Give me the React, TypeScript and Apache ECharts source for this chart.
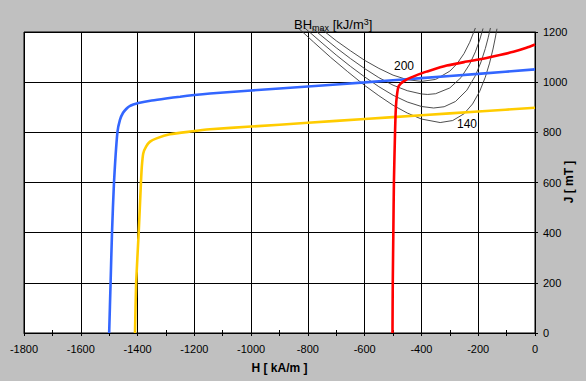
import React, { useEffect, useRef } from "react";
import * as echarts from "echarts";

// Demagnetisation curves: [H (kA/m), J (mT)]
const blueCurve: [number, number][] = [
  [-1500, 0], [-1495, 200], [-1490, 400], [-1483, 600], [-1471, 800], [-1462, 850],
  [-1451, 878], [-1440, 893], [-1430, 903], [-1415, 911], [-1397, 917], [-1350, 927],
  [-1300, 935], [-1250, 942], [-1200, 949], [-1145, 955], [-1000, 967], [-800, 983],
  [-600, 999], [-400, 1016], [-200, 1033], [0, 1051],
];
const yellowCurve: [number, number][] = [
  [-1409, 0], [-1405, 200], [-1396, 400], [-1388, 600], [-1385, 663], [-1380, 716],
  [-1370, 743], [-1356, 763], [-1333, 776], [-1286, 792], [-1215, 803], [-1145, 812],
  [-1000, 823], [-800, 838], [-600, 853], [-400, 868], [-200, 883], [0, 898],
];
const redCurve: [number, number][] = [
  [-502, 0], [-501, 200], [-499, 400], [-497, 600], [-493, 800], [-490, 900],
  [-486, 950], [-481, 982], [-472, 995], [-464, 1002], [-450, 1012], [-429, 1022],
  [-400, 1035], [-382, 1042], [-311, 1066], [-250, 1080], [-194, 1091], [-140, 1104],
  [-76, 1121], [-30, 1137], [0, 1150],
];
// BHmax iso-lines (kJ/m3)
const bh200: [number, number][] = [
  [-756, 1215], [-700, 1165], [-650, 1125], [-600, 1087], [-550, 1055], [-500, 1028],
  [-450, 1010], [-400, 1003], [-350, 1011], [-300, 1044], [-275, 1073], [-250, 1114],
  [-230, 1159], [-210, 1216],
];
const bh180: [number, number][] = [
  [-784, 1215], [-750, 1183], [-700, 1137], [-650, 1094], [-600, 1054], [-550, 1018],
  [-500, 988], [-450, 966], [-400, 953], [-378, 951], [-350, 954], [-300, 977],
  [-260, 1019], [-230, 1072], [-210, 1121], [-195, 1168], [-183, 1214],
];
const bh160: [number, number][] = [
  [-810, 1215], [-750, 1156], [-700, 1108], [-650, 1063], [-600, 1021], [-550, 982],
  [-500, 948], [-450, 921], [-400, 903], [-357, 897], [-320, 902], [-280, 923],
  [-240, 968], [-210, 1026], [-190, 1081], [-175, 1134], [-165, 1177], [-157, 1216],
];
const bh140: [number, number][] = [
  [-833, 1215], [-780, 1160], [-720, 1099], [-660, 1042], [-600, 987], [-550, 946],
  [-500, 908], [-450, 877], [-400, 853], [-334, 839], [-290, 847], [-250, 874],
  [-220, 913], [-195, 963], [-175, 1020], [-160, 1076], [-148, 1132], [-140, 1176],
  [-134, 1213],
];
const bhCurves = [bh200, bh180, bh160, bh140];
const bhLabels = ["200", "140"];

const FONT = "'Liberation Sans', Arial, sans-serif";
const plain = (v: number) => String(v);

export default function App() {
  const ref = useRef<HTMLDivElement>(null);
  useEffect(() => {
    document.body.style.margin = "0";
    const chart = echarts.init(ref.current!, null, { renderer: "svg" });
    chart.setOption({
      animation: false,
      backgroundColor: "#c0c0c0",
      grid: {
        left: 24,
        right: 51,
        top: 32,
        bottom: 48,
        show: true,
        containLabel: false,
        outerBoundsMode: "none",
        backgroundColor: "#ffffff",
        borderColor: "#000000",
        borderWidth: 1,
      },
      xAxis: [
        {
          type: "value",
          min: -1800,
          max: 0,
          interval: 200,
          position: "bottom",
          name: "H [ kA/m ]",
          nameLocation: "middle",
          nameGap: 29,
          nameTextStyle: { fontFamily: FONT, fontSize: 12, fontWeight: "bold", color: "#000" },
          axisLine: { show: true, lineStyle: { color: "#000", width: 1 } },
          axisTick: { show: true, length: 3, lineStyle: { color: "#000" } },
          minorTick: { show: true, splitNumber: 2, length: 3, lineStyle: { color: "#000" } },
          axisLabel: { fontFamily: FONT, fontSize: 11, color: "#000", margin: 10, formatter: plain },
          splitLine: { show: true, lineStyle: { color: "#000", width: 1 } },
        },
        {
          type: "value",
          min: -1800,
          max: 0,
          interval: 100,
          position: "bottom",
          axisLine: { show: false },
          axisTick: { show: true, inside: true, length: 3, lineStyle: { color: "#000" } },
          axisLabel: { show: false },
          splitLine: { show: false },
        },
      ],
      yAxis: [
        {
          type: "value",
          min: 0,
          max: 1200,
          interval: 200,
          position: "right",
          axisLine: { show: true, lineStyle: { color: "#000", width: 1 } },
          axisTick: { show: true, length: 3, lineStyle: { color: "#000" } },
          axisLabel: { fontFamily: FONT, fontSize: 11, color: "#000", margin: 8, formatter: plain },
          splitLine: { show: true, lineStyle: { color: "#000", width: 1 } },
        },
        {
          type: "value",
          min: 0,
          max: 1200,
          interval: 200,
          position: "right",
          axisLine: { show: false },
          axisTick: { show: true, inside: true, length: 3, lineStyle: { color: "#000" } },
          axisLabel: { show: false },
          splitLine: { show: false },
        },
      ],
      series: [
        ...bhCurves.map((d) => ({
          type: "line",
          data: d,
          showSymbol: false,
          clip: false,
          silent: true,
          lineStyle: { color: "#3a3a3a", width: 0.9 },
          z: 2,
        })),
        {
          type: "line",
          data: yellowCurve,
          showSymbol: false,
          smooth: 0.2,
          lineStyle: { color: "#ffcc00", width: 2.6 },
          z: 3,
        },
        {
          type: "line",
          data: blueCurve,
          showSymbol: false,
          smooth: 0.2,
          lineStyle: { color: "#3366ff", width: 2.6 },
          z: 4,
        },
        {
          type: "line",
          data: redCurve,
          showSymbol: false,
          smooth: 0.2,
          lineStyle: { color: "#ff0000", width: 2.6 },
          z: 5,
        },
      ],
      graphic: [
        {
          type: "text",
          x: 294,
          y: 17,
          z: 10,
          style: {
            text: "{a|BH}{b|max}{a| [kJ/m}{c|3}{a|]}",
            fill: "#000",
            rich: {
              a: { fontFamily: FONT, fontSize: 13, lineHeight: 15, color: "#000", verticalAlign: "middle" },
              b: { fontFamily: FONT, fontSize: 9, lineHeight: 15, color: "#000", verticalAlign: "bottom", padding: [5, 0, 0, 0] },
              c: { fontFamily: FONT, fontSize: 9, lineHeight: 15, color: "#000", verticalAlign: "top", padding: [0, 0, 5, 0] },
            },
          },
        },
        {
          type: "text",
          x: 569,
          y: 182,
          rotation: Math.PI / 2,
          z: 10,
          style: {
            text: "J [ mT ]",
            fontFamily: FONT,
            fontSize: 12,
            fontWeight: "bold",
            fill: "#000",
            align: "center",
            verticalAlign: "middle",
            textAlign: "center",
            textVerticalAlign: "middle",
          },
        },
        {
          type: "text",
          x: 404,
          y: 66,
          z: 10,
          style: {
            text: bhLabels[0],
            fontFamily: FONT,
            fontSize: 12,
            fill: "#000",
            align: "center",
            verticalAlign: "middle",
            textAlign: "center",
            textVerticalAlign: "middle",
          },
        },
        {
          type: "text",
          x: 467,
          y: 124,
          z: 10,
          style: {
            text: bhLabels[1],
            fontFamily: FONT,
            fontSize: 12,
            fill: "#000",
            align: "center",
            verticalAlign: "middle",
            textAlign: "center",
            textVerticalAlign: "middle",
          },
        },
      ],
    });
    return () => chart.dispose();
  }, []);
  return <div ref={ref} style={{ width: 586, height: 381 }} />;
}
